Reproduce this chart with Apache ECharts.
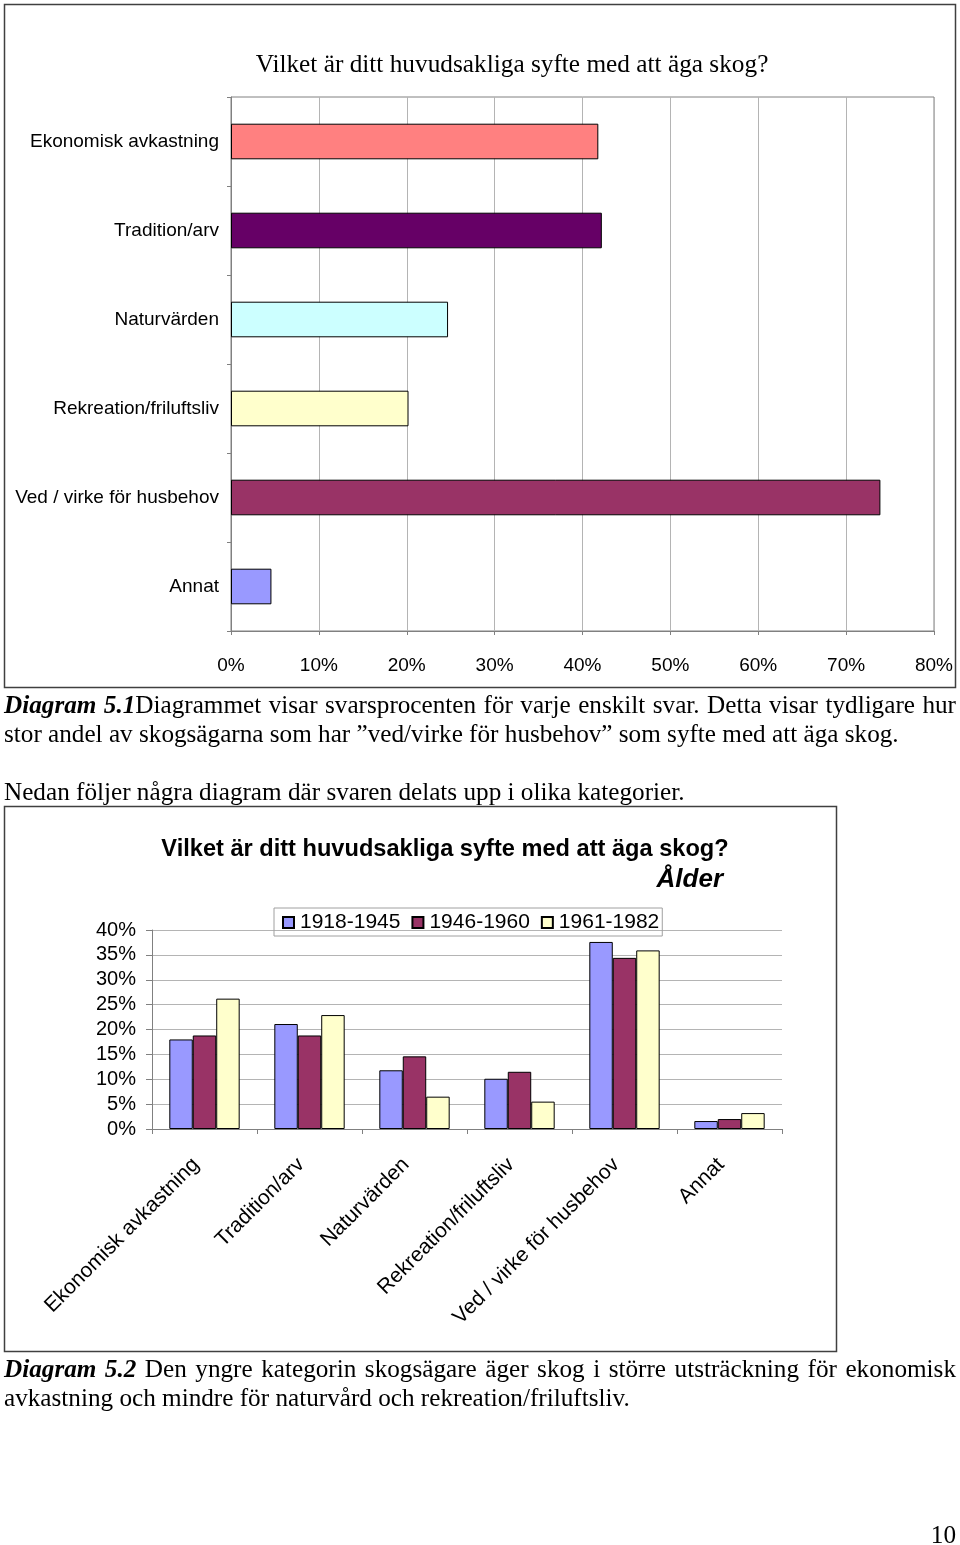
<!DOCTYPE html>
<html><head><meta charset="utf-8">
<script src="https://cdn.jsdelivr.net/npm/echarts@6/dist/echarts.min.js"></script>
<style>
html,body{margin:0;padding:0;background:#fff;}
#c{position:absolute;left:0;top:0;width:960px;height:1545px;}
.t{position:absolute;font-family:"Liberation Serif","Times New Roman",serif;font-size:25.2px;line-height:29px;color:#000;white-space:nowrap;z-index:2;}
.j{text-align:justify;text-align-last:justify;white-space:normal;}
</style></head><body>
<div id="c"></div>
<div class="t j" style="left:4px;top:690px;width:952px;"><b><i>Diagram 5.1</i></b>Diagrammet visar svarsprocenten för varje enskilt svar. Detta visar tydligare hur</div>
<div class="t" style="left:4px;top:719px;">stor andel av skogsägarna som har ”ved/virke för husbehov” som syfte med att äga skog.</div>
<div class="t" style="left:4px;top:777px;">Nedan följer några diagram där svaren delats upp i olika kategorier.</div>
<div class="t j" style="left:4px;top:1354px;width:952px;"><b><i>Diagram 5.2</i></b> Den yngre kategorin skogsägare äger skog i större utsträckning för ekonomisk</div>
<div class="t" style="left:4px;top:1383px;">avkastning och mindre för naturvård och rekreation/friluftsliv.</div>
<div class="t" style="right:4px;top:1520px;">10</div>
<script>
const categories = ['Ekonomisk avkastning','Tradition/arv','Naturvärden','Rekreation/friluftsliv','Ved / virke för husbehov','Annat'];
const totalValues = [41.8, 42.2, 24.7, 20.2, 73.9, 4.6];
const totalColors = ['#FF8080','#660066','#CCFFFF','#FFFFCC','#993366','#9999FF'];
const ageGroups = ['1918-1945','1946-1960','1961-1982'];
const age1918 = [18.0, 21.1, 11.8, 10.1, 37.6, 1.6];
const age1946 = [18.8, 18.8, 14.6, 11.5, 34.4, 2.0];
const age1961 = [26.2, 22.9, 6.5, 5.5, 35.9, 3.2];
const ageColors = ['#9999FF','#993366','#FFFFCC'];
const title1 = 'Vilket är ditt huvudsakliga syfte med att äga skog?';
const title2 = 'Vilket är ditt huvudsakliga syfte med att äga skog?';
const subtitle2 = 'Ålder';

const SANS = '"Liberation Sans", Arial, sans-serif';
const SERIF = '"Liberation Serif", "Times New Roman", serif';
const gridColor = '#b4b4b4';
const axisColor = '#808080';

const chart = echarts.init(document.getElementById('c'), null, {renderer:'canvas'});
const ageSeries = [age1918, age1946, age1961].map((d, i) => ({
  name: ageGroups[i], type: 'bar', xAxisIndex: 1, yAxisIndex: 1,
  data: d, barGap: '0%', barCategoryGap: '33%',
  itemStyle: {color: ageColors[i], borderColor: '#000', borderWidth: 1},
  emphasis: {disabled: true}
}));

chart.setOption({
  animation: false,
  backgroundColor: '#fff',
  graphic: [
    {type:'rect', shape:{x:4.5, y:4.5, width:951, height:683}, style:{fill:'none', stroke:'#404040', lineWidth:1.5}, z:-1},
    {type:'rect', shape:{x:4.5, y:806.5, width:832, height:545}, style:{fill:'none', stroke:'#404040', lineWidth:1.5}, z:-1},
    {type:'text', x:512, y:65, style:{text:title1, font:'25.3px ' + SERIF, fill:'#000', align:'center', verticalAlign:'middle'}},
    {type:'text', x:445, y:849, style:{text:title2, font:'bold 23.6px ' + SANS, fill:'#000', align:'center', verticalAlign:'middle'}},
    {type:'text', x:723, y:880, style:{text:subtitle2, font:'italic bold 26px ' + SANS, fill:'#000', align:'right', verticalAlign:'middle'}}
  ],
  legend: {
    data: ageGroups, left: 274, top: 908, icon: 'rect', itemWidth: 11, itemHeight: 11, itemGap: 11,
    padding: [4, 3, 3, 8], borderColor: '#a0a0a0', borderWidth: 1,
    textStyle: {fontSize: 21, fontFamily: SANS, color: '#000', padding: [0,0,0,1]},
    selectedMode: false
  },
  grid: [
    {left: 231, top: 97, width: 703, height: 534, show: true, borderColor: axisColor, borderWidth: 1, containLabel: false},
    {left: 152, top: 930, width: 630, height: 199, containLabel: false}
  ],
  xAxis: [
    {type: 'value', gridIndex: 0, min: 0, max: 80, interval: 10,
     axisLine: {show: true, lineStyle: {color: axisColor}},
     axisTick: {show: true, length: 4, lineStyle: {color: axisColor}},
     splitLine: {show: true, lineStyle: {color: gridColor}},
     axisLabel: {formatter: '{value}%', fontSize: 19, fontFamily: SANS, color: '#000', margin: 25}},
    {type: 'category', gridIndex: 1, data: categories,
     axisLine: {show: true, lineStyle: {color: axisColor}},
     axisTick: {show: true, length: 5, lineStyle: {color: axisColor}},
     axisLabel: {rotate: 45, interval: 0, fontSize: 21, fontFamily: SANS, color: '#000', margin: 24, padding: [0, 12, 0, 0]}}
  ],
  yAxis: [
    {type: 'category', gridIndex: 0, data: categories, inverse: true,
     axisLine: {show: true, lineStyle: {color: axisColor}},
     axisTick: {show: true, length: 4, lineStyle: {color: axisColor}},
     axisLabel: {fontSize: 19, fontFamily: SANS, color: '#000', margin: 12, padding: [4, 0, 0, 0]}},
    {type: 'value', gridIndex: 1, min: 0, max: 40, interval: 5,
     axisLine: {show: true, lineStyle: {color: axisColor}},
     axisTick: {show: true, length: 6, lineStyle: {color: axisColor}},
     splitLine: {show: true, lineStyle: {color: gridColor}},
     axisLabel: {formatter: '{value}%', fontSize: 20, fontFamily: SANS, color: '#000', margin: 16, padding: [2, 0, 0, 0]}}
  ],
  series: [
    {name: 'Totalt', type: 'bar', xAxisIndex: 0, yAxisIndex: 0, barCategoryGap: '60%',
     data: totalValues.map((v, i) => ({value: v, itemStyle: {color: totalColors[i]}})),
     itemStyle: {borderColor: '#000', borderWidth: 1},
     emphasis: {disabled: true}}
  ].concat(ageSeries)
});
</script>
</body></html>
